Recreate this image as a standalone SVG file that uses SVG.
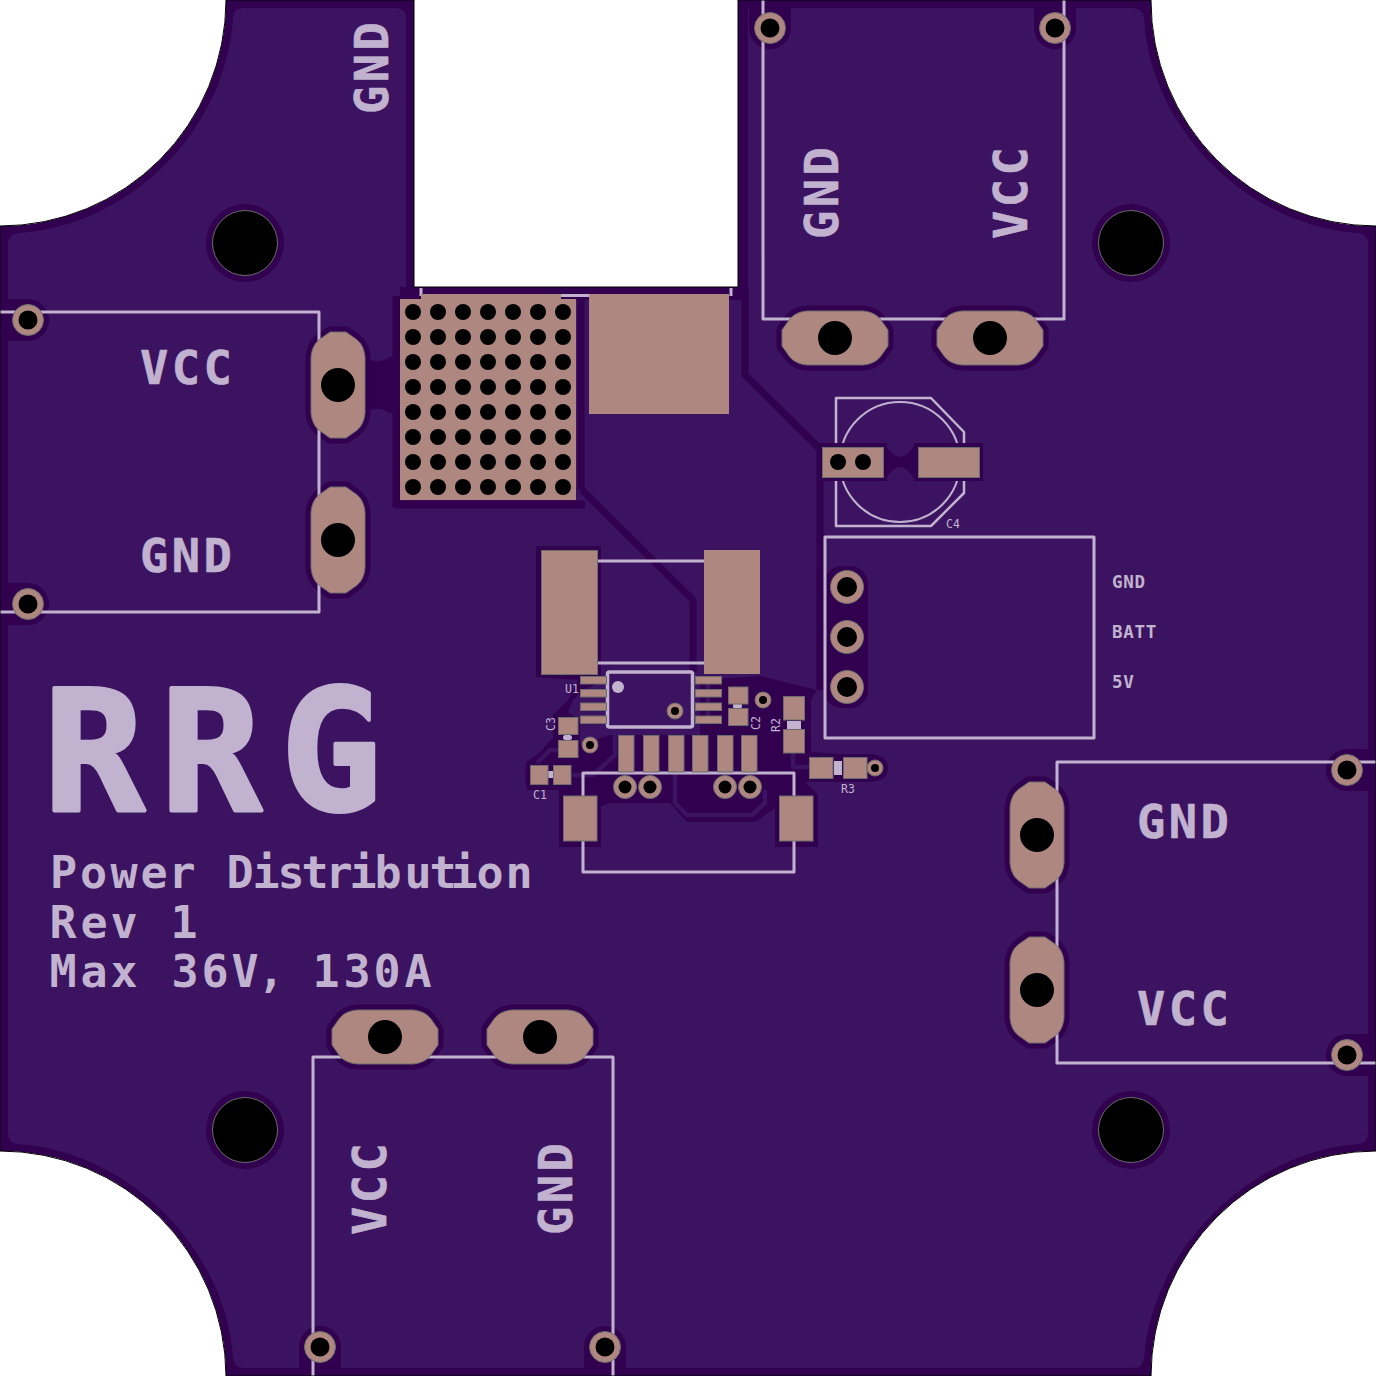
<svg xmlns="http://www.w3.org/2000/svg" width="1376" height="1376" viewBox="0 0 1376 1376">
<style>
.silk{fill:none;stroke:#c1b3cf;stroke-width:3;stroke-linejoin:round}
.sf{fill:#c1b3cf}
.pad{fill:#ae8780;stroke:#6c6c6c;stroke-width:1}
.pf{fill:#ae8780}
.hole{fill:#000}
.halo{fill:#31004f}
.gap{fill:none;stroke:#31004f;stroke-width:7;stroke-linejoin:round}
.tr{fill:none;stroke:#3c1360;stroke-width:4.5;stroke-linejoin:round}
.ohalo{fill:#31004f;stroke:#31004f;stroke-width:11;stroke-linejoin:round}
text{font-family:"DejaVu Sans Mono","Liberation Mono",monospace;fill:#c1b3cf}
.big{font-size:168px;font-weight:700;text-anchor:middle;stroke:#c1b3cf;stroke-width:4;stroke-linejoin:round}
.lab{font-size:47px;font-weight:700;letter-spacing:3.500px;stroke:#c1b3cf;stroke-width:.6;stroke-linejoin:round}
.note{font-size:45px;font-weight:700;text-anchor:middle}
.sm{font-size:17.500px;font-weight:700;letter-spacing:.7px}
.ref{font-size:11.500px}
</style>
<defs>
<clipPath id="bc"><path id="bp" d="M226 0H414V287H738V0H1151A225 225 0 0 0 1376 226V1151A225 225 0 0 0 1151 1376H226A226 226 0 0 0 0 1151V226A226 226 0 0 0 226 0Z"/></clipPath>
<path id="os" d="M-28 -27H28C38 -26 44 -22 48 -15L53 -8V8L48 15C44 22 38 26 28 27H-28C-38 26 -44 22 -48 15L-53 8V-8L-48 -15C-44 -22 -38 -26 -28 -27Z"/>
<g id="ph"><circle r="32.500" fill="#000" stroke="#6c6c6c" stroke-width="1"/></g>
<g id="sv"><circle r="15.500" class="pad"/><circle r="9.500" class="hole"/></g>
<g id="via"><circle r="8" class="pad"/><circle r="4" class="hole"/></g>
<g id="cv"><circle r="11.500" class="pad"/><circle r="6.500" class="hole"/></g>
<g id="mv"><circle r="16.500" class="pad"/><circle r="10" class="hole"/></g>
<g id="ov"><use href="#os" transform="rotate(90)" class="pad"/><circle r="17" class="hole"/></g>
<g id="oh"><use href="#os" class="pad"/><circle r="17" class="hole"/></g>
<g id="ovh"><use href="#os" transform="rotate(90)" class="ohalo"/></g>
<g id="ohh"><use href="#os" class="ohalo"/></g>
</defs>
<rect width="1376" height="1376" fill="#fff"/>
<g id="board" clip-path="url(#bc)">
<use href="#bp" fill="#31004f"/>
<path id="pour" fill="#3c1360" d="M243 8H396Q406 8 406 18V289Q406 295 398 300H745V375L818 447V8H1132Q1143 8 1144 18C1150 130 1250 226 1358 233Q1368 234 1368 244V1133Q1368 1143 1358 1144C1250 1152 1152 1250 1144 1358Q1143 1368 1133 1368H244Q234 1368 233 1358C226 1250 130 1152 18 1144Q8 1143 8 1133V244Q8 234 18 233C130 226 226 130 233 18Q234 8 243 8Z"/>
<path fill="#3c1360" d="M748 8H1050V447H824V690H1000V1000H748V375Z"/>
<g id="gaps">
<path class="gap" d="M745 288V375L820 449V690"/>
<path class="gap" d="M582 490L693 600V672"/>
<path class="gap" d="M581 298V490"/>
<path class="gap" style="stroke-width:8" d="M396.500 296V504.500H585"/>
<path class="gap" style="stroke-width:12" d="M400 293H745"/>
<path class="halo" d="M365 358Q378 365 390 357H400V413H390Q378 405 365 412Z"/>
<rect x="824" y="566" width="44" height="142" rx="18" class="halo"/>
<path class="halo" d="M536 546H601V682L583 690L573 700L568 712L580 722V744L610 735H700V680L760 676L817 690L811 700V752L840 754H872Q888 756 888 768Q888 780 872 782H805L818 795V847H775V808L755 822H687L670 803H610L601 806V847H559V790H527Q524 776 526 762L538 754L553 738V715L568 700L578 680L536 677Z"/>
</g>
<g id="traces">
<path class="tr" d="M675 735V803L687 815H752L765 803V790"/>
<path class="tr" d="M537 763L550 750H560"/>
<path class="tr" d="M572 775H593L615 755V735"/>
<path class="tr" d="M595 723V745"/>
<path class="tr" d="M612 687H657L673 707"/>
<path class="tr" d="M612 693H655L677 715"/>
<path class="tr" d="M793 753V767H810"/>
<path class="tr" d="M708 676V723"/>
<path fill="#3c1360" d="M660 674H692V692L672 698Z"/>
</g>
<g id="halos">
<circle cx="245" cy="243" r="39" class="halo"/><circle cx="1131" cy="243" r="39" class="halo"/>
<circle cx="245" cy="1130" r="39" class="halo"/><circle cx="1131" cy="1130" r="39" class="halo"/>
<path class="gap" style="stroke-width:42;stroke-linecap:butt" d="M0 320H28M0 604H28M770 0V28M1055 0V28M1376 770H1347M1376 1055H1347M320 1376V1347M605 1376V1347"/>
<circle cx="28" cy="320" r="21" class="halo"/><circle cx="28" cy="604" r="21" class="halo"/>
<circle cx="770" cy="28" r="21" class="halo"/><circle cx="1055" cy="28" r="21" class="halo"/>
<circle cx="1347" cy="770" r="21" class="halo"/><circle cx="1347" cy="1055" r="21" class="halo"/>
<circle cx="320" cy="1347" r="21" class="halo"/><circle cx="605" cy="1347" r="21" class="halo"/>
<use href="#ovh" x="338" y="385"/><use href="#ovh" x="338" y="540"/>
<use href="#ovh" x="1037" y="835"/><use href="#ovh" x="1037" y="990"/>
<use href="#ohh" x="835" y="338"/><use href="#ohh" x="990" y="338"/>
<use href="#ohh" x="385" y="1037"/><use href="#ohh" x="540" y="1037"/>
</g>
<g id="outline-silk">
<path class="silk" d="M0 312H319V612H0"/>
<path class="silk" d="M763 0V319H1064V0"/>
<path class="silk" d="M1376 762H1057V1063H1376"/>
<path class="silk" d="M313 1376V1057H613V1376"/>
<path class="silk" d="M421 288V296M731 288V296"/>
<path class="silk" d="M560 295.500H589"/>
<path class="silk" d="M597 561H704M597 663H704"/>
<path class="silk" d="M825 537H1094V738H825Z"/>
<path class="silk" d="M583 773H794V872H583Z"/>
</g>
<g id="labels">
<text class="big" x="94 211 331" y="810">RRG</text>
<text class="note" x="63.500 93.500 124 154 182 211 240 266 291 315 339 363 388 418 443 464 490 519" y="888">Power Distribution</text>
<text class="note" x="63 94 124 154 184" y="938">Rev 1</text>
<text class="note" x="63 94 124 154 185 215 245 271 298 326 357 387 418" y="987">Max 36V, 130A</text>
<text class="lab" x="140" y="384">VCC</text>
<text class="lab" x="140" y="572">GND</text>
<text class="lab" x="1137" y="838">GND</text>
<text class="lab" x="1137" y="1025">VCC</text>
<text class="lab" transform="translate(388 114) rotate(-90)">GND</text>
<text class="lab" transform="translate(838 239) rotate(-90)">GND</text>
<text class="lab" transform="translate(1027 239) rotate(-90)">VCC</text>
<text class="lab" transform="translate(386 1235) rotate(-90)">VCC</text>
<text class="lab" transform="translate(572 1235) rotate(-90)">GND</text>
<text class="sm" x="1112" y="588">GND</text>
<text class="sm" x="1112" y="638">BATT</text>
<text class="sm" x="1112" y="688">5V</text>
<text class="ref" x="565" y="693">U1</text>
<text class="ref" x="533" y="799">C1</text>
<text class="ref" x="841" y="793">R3</text>
<text class="ref" x="946" y="528">C4</text>
<text class="ref" transform="translate(555 731) rotate(-90)">C3</text>
<text class="ref" transform="translate(760 730) rotate(-90)">C2</text>
<text class="ref" transform="translate(780 732) rotate(-90)">R2</text>
</g>
<g id="holes-mount">
<use href="#ph" x="245" y="243"/><use href="#ph" x="1131" y="243"/>
<use href="#ph" x="245" y="1130"/><use href="#ph" x="1131" y="1130"/>
</g>
<g id="vias-small">
<use href="#sv" x="28" y="320"/><use href="#sv" x="28" y="604"/>
<use href="#sv" x="770" y="28"/><use href="#sv" x="1055" y="28"/>
<use href="#sv" x="1347" y="770"/><use href="#sv" x="1347" y="1055"/>
<use href="#sv" x="320" y="1347"/><use href="#sv" x="605" y="1347"/>
</g>
<g id="power-pads">
<use href="#ov" x="338" y="385"/><use href="#ov" x="338" y="540"/>
<use href="#ov" x="1037" y="835"/><use href="#ov" x="1037" y="990"/>
<use href="#oh" x="835" y="338"/><use href="#oh" x="990" y="338"/>
<use href="#oh" x="385" y="1037"/><use href="#oh" x="540" y="1037"/>
</g>
<g id="grid-pad">
<rect x="421" y="294" width="140" height="6" class="pf"/>
<rect x="400" y="299" width="176" height="201" class="pf"/>
<rect x="589" y="294" width="140" height="120" class="pf"/>
<g class="hole">
<circle cx="413" cy="312" r="8"/><circle cx="438" cy="312" r="8"/><circle cx="463" cy="312" r="8"/><circle cx="488" cy="312" r="8"/><circle cx="513" cy="312" r="8"/><circle cx="538" cy="312" r="8"/><circle cx="563" cy="312" r="8"/>
<circle cx="413" cy="337" r="8"/><circle cx="438" cy="337" r="8"/><circle cx="463" cy="337" r="8"/><circle cx="488" cy="337" r="8"/><circle cx="513" cy="337" r="8"/><circle cx="538" cy="337" r="8"/><circle cx="563" cy="337" r="8"/>
<circle cx="413" cy="362" r="8"/><circle cx="438" cy="362" r="8"/><circle cx="463" cy="362" r="8"/><circle cx="488" cy="362" r="8"/><circle cx="513" cy="362" r="8"/><circle cx="538" cy="362" r="8"/><circle cx="563" cy="362" r="8"/>
<circle cx="413" cy="387" r="8"/><circle cx="438" cy="387" r="8"/><circle cx="463" cy="387" r="8"/><circle cx="488" cy="387" r="8"/><circle cx="513" cy="387" r="8"/><circle cx="538" cy="387" r="8"/><circle cx="563" cy="387" r="8"/>
<circle cx="413" cy="412" r="8"/><circle cx="438" cy="412" r="8"/><circle cx="463" cy="412" r="8"/><circle cx="488" cy="412" r="8"/><circle cx="513" cy="412" r="8"/><circle cx="538" cy="412" r="8"/><circle cx="563" cy="412" r="8"/>
<circle cx="413" cy="437" r="8"/><circle cx="438" cy="437" r="8"/><circle cx="463" cy="437" r="8"/><circle cx="488" cy="437" r="8"/><circle cx="513" cy="437" r="8"/><circle cx="538" cy="437" r="8"/><circle cx="563" cy="437" r="8"/>
<circle cx="413" cy="462" r="8"/><circle cx="438" cy="462" r="8"/><circle cx="463" cy="462" r="8"/><circle cx="488" cy="462" r="8"/><circle cx="513" cy="462" r="8"/><circle cx="538" cy="462" r="8"/><circle cx="563" cy="462" r="8"/>
<circle cx="413" cy="487" r="8"/><circle cx="438" cy="487" r="8"/><circle cx="463" cy="487" r="8"/><circle cx="488" cy="487" r="8"/><circle cx="513" cy="487" r="8"/><circle cx="538" cy="487" r="8"/><circle cx="563" cy="487" r="8"/>
</g>
</g>
<g id="C4">
<path class="silk" style="stroke-width:2.500" d="M836 398H931L964 432V493L931 526H836Z"/>
<circle cx="900" cy="462" r="60" class="silk" style="stroke-width:2"/>
<rect x="818" y="443" width="69" height="38" class="halo"/>
<rect x="914" y="443" width="69" height="38" class="halo"/>
<path class="halo" d="M885 444Q900 470 915 444V480Q900 454 885 480Z"/>
<rect x="822.500" y="447.500" width="61" height="30" class="pad"/>
<rect x="918.500" y="447.500" width="61" height="30" class="pad"/>
<circle cx="838" cy="462" r="8" class="hole"/><circle cx="863" cy="462" r="8" class="hole"/>
</g>
<g id="module"><use href="#mv" x="847" y="587"/><use href="#mv" x="847" y="637"/><use href="#mv" x="847" y="687"/></g>
<g id="U1">
<rect x="541.500" y="550.500" width="56" height="124" class="pad"/>
<rect x="704" y="550" width="56" height="124" class="pf"/>
<rect x="607.500" y="672" width="85" height="55" rx="2" class="silk" style="stroke-width:3.500"/>
<circle cx="618" cy="687" r="6" class="sf"/>
<rect x="580.500" y="676.500" width="26" height="7.500" class="pad"/><rect x="580.500" y="689.500" width="26" height="7.500" class="pad"/><rect x="580.500" y="703" width="26" height="7.500" class="pad"/><rect x="580.500" y="716" width="26" height="7.500" class="pad"/>
<rect x="695.500" y="676.500" width="26" height="7.500" class="pad"/><rect x="695.500" y="689.500" width="26" height="7.500" class="pad"/><rect x="695.500" y="703" width="26" height="7.500" class="pad"/><rect x="695.500" y="716" width="26" height="7.500" class="pad"/>
<use href="#via" x="675" y="711"/>
</g>
<g id="C2"><rect x="733" y="703" width="9" height="6" rx="3" class="sf"/><rect x="728.500" y="687" width="19.500" height="17" class="pad"/><rect x="728.500" y="708.500" width="19.500" height="17" class="pad"/><use href="#via" x="763" y="700"/></g>
<g id="R2"><rect x="787" y="721" width="14" height="8" class="sf"/><rect x="783.500" y="696.500" width="21" height="23.500" class="pad"/><rect x="783.500" y="729.500" width="21" height="23.500" class="pad"/></g>
<g id="R3"><rect x="834" y="761" width="8" height="14" class="sf"/><rect x="809.500" y="757.500" width="23.500" height="21" class="pad"/><rect x="843.500" y="757.500" width="23.500" height="21" class="pad"/><use href="#via" x="875" y="768"/></g>
<g id="C3"><rect x="563" y="735" width="9" height="5" rx="2.500" class="sf"/><rect x="558.500" y="717.500" width="19.500" height="17" class="pad"/><rect x="558.500" y="740.500" width="19.500" height="17" class="pad"/><use href="#via" x="590" y="745"/></g>
<g id="C1"><rect x="548" y="771" width="5" height="7" class="sf"/><rect x="530.500" y="765.500" width="17.500" height="19" class="pad"/><rect x="553.500" y="765.500" width="17.500" height="19" class="pad"/></g>
<g id="connector">
<rect x="618.500" y="735.500" width="15.500" height="36.500" class="pad"/><rect x="643.500" y="735.500" width="15.500" height="36.500" class="pad"/><rect x="668.500" y="735.500" width="15.500" height="36.500" class="pad"/><rect x="692.500" y="735.500" width="15.500" height="36.500" class="pad"/><rect x="717.500" y="735.500" width="15.500" height="36.500" class="pad"/><rect x="741.500" y="735.500" width="15.500" height="36.500" class="pad"/>
<use href="#cv" x="625" y="787"/><use href="#cv" x="650" y="787"/><use href="#cv" x="725" y="787"/><use href="#cv" x="750" y="787"/>
<rect x="563.500" y="796" width="33.500" height="45" class="pad"/><rect x="779.500" y="796" width="33.500" height="45" class="pad"/>
</g>
</g>
<use href="#bp" fill="none" stroke="#000" stroke-width="1"/>
</svg>
